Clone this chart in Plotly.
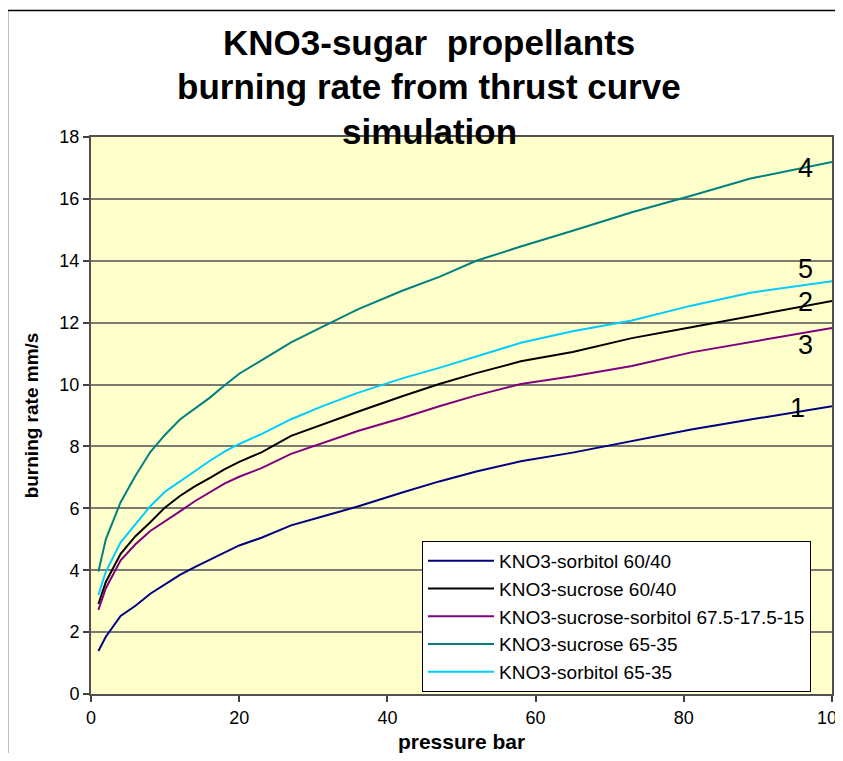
import plotly.graph_objects as go

pressure = [1, 2, 4, 6, 8, 10, 12, 14, 16, 18, 20, 23, 27, 31, 36, 42, 47, 52, 58, 65, 73, 81, 89, 100]

sorbitol_60_40 = [1.39, 1.85, 2.52, 2.85, 3.24, 3.55, 3.85, 4.10, 4.33, 4.58, 4.80, 5.05, 5.45, 5.72,
                  6.06, 6.51, 6.87, 7.19, 7.52, 7.80, 8.17, 8.55, 8.87, 9.30]
sucrose_60_40 = [2.91, 3.62, 4.53, 5.10, 5.55, 6.03, 6.40, 6.71, 6.98, 7.26, 7.50, 7.81, 8.34, 8.69,
                 9.12, 9.62, 10.02, 10.37, 10.75, 11.05, 11.50, 11.85, 12.20, 12.70]
sucrose_sorbitol = [2.72, 3.42, 4.32, 4.84, 5.27, 5.58, 5.90, 6.23, 6.52, 6.80, 7.02, 7.30, 7.76, 8.10,
                    8.50, 8.92, 9.30, 9.65, 10.02, 10.27, 10.60, 11.04, 11.38, 11.83]
sucrose_65_35 = [3.96, 5.00, 6.20, 7.05, 7.82, 8.38, 8.87, 9.22, 9.57, 9.97, 10.35, 10.78, 11.36, 11.84,
                 12.43, 13.03, 13.48, 14.00, 14.46, 14.97, 15.57, 16.10, 16.66, 17.19]
sorbitol_65_35 = [3.20, 3.95, 4.90, 5.50, 6.07, 6.54, 6.88, 7.20, 7.53, 7.83, 8.08, 8.40, 8.88, 9.28,
                  9.73, 10.20, 10.54, 10.90, 11.35, 11.72, 12.07, 12.55, 12.97, 13.34]

series_names = ["KNO3-sorbitol 60/40", "KNO3-sucrose 60/40", "KNO3-sucrose-sorbitol 67.5-17.5-15",
                "KNO3-sucrose 65-35", "KNO3-sorbitol 65-35"]
series_values = [sorbitol_60_40, sucrose_60_40, sucrose_sorbitol, sucrose_65_35, sorbitol_65_35]
series_colors = ["#000080", "#000000", "#800080", "#008080", "#00CCFF"]

label_texts = ["1", "2", "3", "4", "5"]
label_x = [95.3, 96.4, 96.4, 96.4, 96.4]
label_y = [9.24, 12.66, 11.29, 17.0, 13.72]

title_lines = ["KNO3-sugar  propellants", "burning rate from thrust curve", "simulation"]

x_ticks = [0, 20, 40, 60, 80, 100]
y_ticks = [0, 2, 4, 6, 8, 10, 12, 14, 16, 18]

FONT = "Liberation Sans, Arial"

fig = go.Figure()
for name, vals, col in zip(series_names, series_values, series_colors):
    fig.add_trace(go.Scatter(x=pressure, y=vals, mode="lines", name=name,
                             line=dict(color=col, width=2)))

for t, lx, ly in zip(label_texts, label_x, label_y):
    fig.add_annotation(x=lx, y=ly, text=t, showarrow=False, xref="x", yref="y",
                       font=dict(family=FONT, size=27, color="#000000"))

# page is shown with an 8px body offset; figure sized to fit the window without scrollbars
W, H = 835, 745
L, R, T, B = 83, 11, 129, 59
pw, ph = W - L - R, H - T - B

def px_x(p):
    return (p - L) / pw

def px_y(p):
    return (H - B - p) / ph

# title lines (figure pixel centres)
for line, cy in zip(title_lines, [35, 79, 123]):
    fig.add_annotation(x=px_x(421), y=px_y(cy), xref="paper", yref="paper",
                       text="<b>" + line + "</b>", showarrow=False,
                       xanchor="center", yanchor="middle",
                       font=dict(family=FONT, size=35, color="#000000"))

fig.add_shape(type="rect", xref="paper", yref="paper",
              x0=px_x(-0.5), x1=px_x(900), y0=px_y(2.5), y1=px_y(900),
              line=dict(color="#000000", width=1.5), fillcolor="rgba(0,0,0,0)", layer="below")

fig.update_layout(
    width=W, height=H,
    margin=dict(l=L, r=R, t=T, b=B, autoexpand=False),
    paper_bgcolor="#FFFFFF",
    plot_bgcolor="#FFFFCC",
    font=dict(family=FONT, color="#000000"),
    xaxis=dict(range=[0, 100], tickvals=x_ticks, ticks="outside", ticklen=6,
               tickcolor="#404040", tickwidth=1.5, ticklabeloverflow="allow",
               automargin=False,
               showgrid=False, zeroline=False, showline=True, linecolor="#505050",
               linewidth=2, mirror=True,
               tickfont=dict(size=18),
               title=dict(text="<b>pressure bar</b>", font=dict(size=21), standoff=8)),
    yaxis=dict(range=[0, 18], tickvals=y_ticks, ticks="outside", ticklen=6,
               tickcolor="#404040", tickwidth=1.5, automargin=False,
               showgrid=True, gridcolor="#7a7a70", gridwidth=2, zeroline=False,
               showline=True, linecolor="#505050", linewidth=2, mirror=True,
               tickfont=dict(size=18),
               title=dict(text="<b>burning rate mm/s</b>", font=dict(size=19), standoff=16)),
    legend=dict(x=px_x(414), y=px_y(533), xanchor="left", yanchor="top",
                bgcolor="#FFFFFF", bordercolor="#000000", borderwidth=1,
                font=dict(size=19, family=FONT),
                itemwidth=66),
    showlegend=True,
)

fig.write_html("out.html")
